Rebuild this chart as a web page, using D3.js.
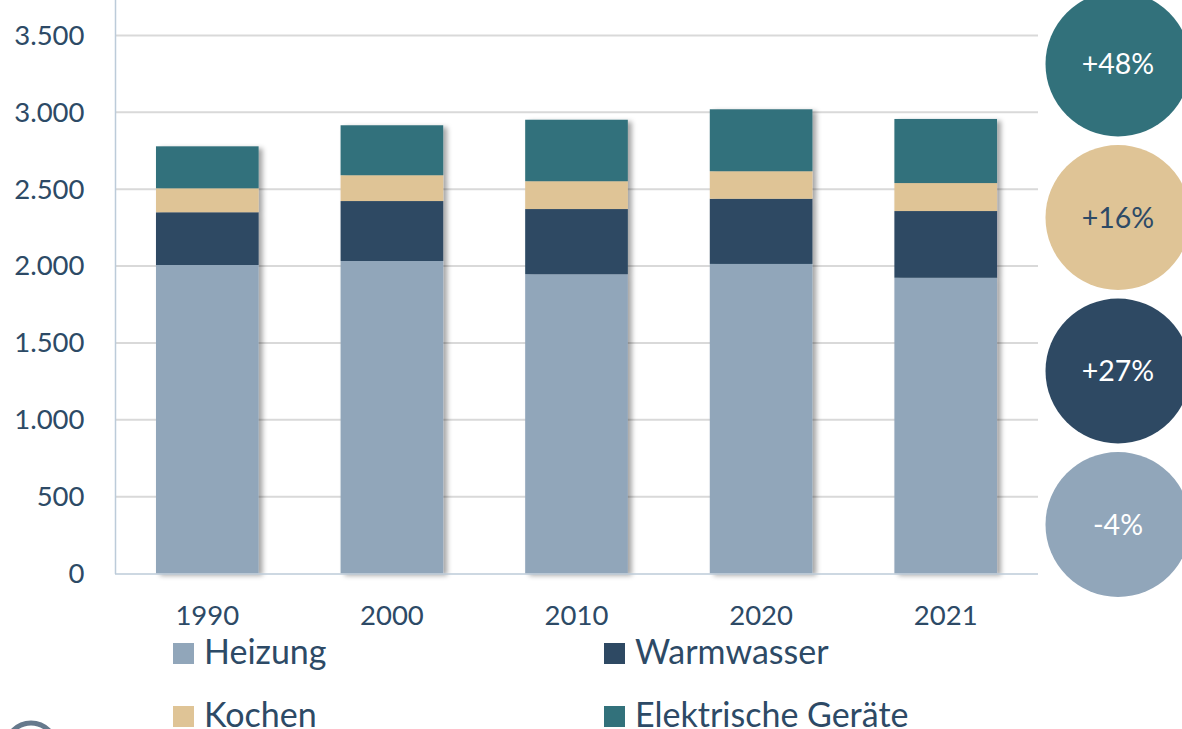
<!DOCTYPE html>
<meta charset="utf-8">
<style>
body { margin: 0; background: #fff; }
svg { display: block; font-family: Lato, "Noto Sans", sans-serif; }
.tick text { fill: #2d4a66; }
</style>
<svg width="1182" height="729"></svg>
<script src="https://d3js.org/d3.v7.min.js"></script>
<script>

// data
var years = ["1990", "2000", "2010", "2020", "2021"];
var heizung     = [2007, 2033, 1947, 2014, 1924];
var warmwasser  = [343, 390, 424, 424, 434];
var kochen      = [156, 168, 181, 179, 182];
var elektrisch  = [273, 325, 400, 403, 417];
var seriesNames = ["Heizung", "Warmwasser", "Kochen", "Elektrische Geräte"];
var changeLabels = ["-4%", "+27%", "+16%", "+48%"];
var yTicks = [0, 500, 1000, 1500, 2000, 2500, 3000, 3500];

var colors = ["#91a6ba", "#2e4963", "#dfc496", "#32717b"];
var textColor = "#2d4a66";

var svg = d3.select("svg");

var rows = years.map(function(y, i) {
  return { year: y, "Heizung": heizung[i], "Warmwasser": warmwasser[i],
           "Kochen": kochen[i], "Elektrische Geräte": elektrisch[i] };
});

var x = d3.scaleBand().domain(years).range([115, 1038])
    .paddingInner(0.444).paddingOuter(0.222);
var y = d3.scaleLinear().domain([0, 3500]).range([573.5, 35.5]);

// drop shadow for the bars
var defs = svg.append("defs");
defs.append("filter").attr("id", "shadow")
    .attr("x", "-10%").attr("y", "-10%").attr("width", "130%").attr("height", "130%")
  .append("feDropShadow")
    .attr("dx", 4).attr("dy", 2).attr("stdDeviation", 2.5)
    .attr("flood-color", "#000").attr("flood-opacity", 0.35);

// gridlines
svg.append("g").selectAll("line")
  .data(yTicks.slice(1))
  .enter().append("line")
    .attr("x1", 115).attr("x2", 1038)
    .attr("y1", function(d) { return y(d); })
    .attr("y2", function(d) { return y(d); })
    .attr("stroke", "#d9d9d9").attr("stroke-width", 2);

// y axis
var yAxis = svg.append("g")
    .attr("transform", "translate(115.5,0)")
    .call(d3.axisLeft(y).tickValues(yTicks).tickSize(0).tickPadding(31)
      .tickFormat(function(d) { return d3.format(",")(d).replace(/,/g, "."); }));
yAxis.select(".domain").remove();
yAxis.selectAll("text").attr("font-size", 27.5).attr("font-family", "Lato");
svg.append("line").attr("x1", 115.5).attr("x2", 115.5).attr("y1", 0).attr("y2", 574)
    .attr("stroke", "#bccbd9").attr("stroke-width", 1.5);

// stacked bars
var stack = d3.stack().keys(seriesNames)(rows);

var barGroups = svg.append("g").selectAll("g.bar")
  .data(years)
  .enter().append("g").attr("class", "bar")
    .attr("filter", "url(#shadow)");

barGroups.selectAll("rect")
  .data(function(yr, i) {
    return stack.map(function(s, k) { return { k: k, d: s[i] }; });
  })
  .enter().append("rect")
    .attr("x", function(o) { return x(o.d.data.year); })
    .attr("width", x.bandwidth())
    .attr("y", function(o) { return y(o.d[1]); })
    .attr("height", function(o) { return y(o.d[0]) - y(o.d[1]); })
    .attr("fill", function(o) { return colors[o.k]; });

// baseline
svg.append("line").attr("x1", 115).attr("x2", 1038).attr("y1", 574).attr("y2", 574)
    .attr("stroke", "#bccbd9").attr("stroke-width", 1.5);

// x axis labels
var xAxis = svg.append("g")
    .attr("transform", "translate(0,605)")
    .call(d3.axisBottom(x).tickSize(0).tickPadding(0));
xAxis.select(".domain").remove();
xAxis.selectAll("text").attr("font-size", 27.5).attr("font-family", "Lato");

// change circles on the right
var circleY = d3.scaleLinear().domain([0, 3]).range([524.5, 64]);
var circ = svg.append("g").selectAll("g")
  .data(changeLabels)
  .enter().append("g")
    .attr("transform", function(d, i) { return "translate(1118," + circleY(i) + ")"; });
circ.append("circle").attr("r", 72.5)
    .attr("fill", function(d, i) { return colors[i]; });
circ.append("text")
    .attr("text-anchor", "middle").attr("dy", "0.36em")
    .attr("font-size", 28.5)
    .attr("fill", function(d, i) { return i == 2 ? textColor : "#fff"; })
    .text(function(d) { return d; });

// legend
var legendPos = [[173, 643], [604, 643], [173, 706], [604, 706]];
var legend = svg.append("g").selectAll("g")
  .data(seriesNames)
  .enter().append("g")
    .attr("transform", function(d, i) { return "translate(" + legendPos[i][0] + "," + legendPos[i][1] + ")"; });
legend.append("rect").attr("width", 21).attr("height", 21)
    .attr("fill", function(d, i) { return colors[i]; });
legend.append("text").attr("x", 31).attr("y", 21)
    .attr("font-size", 34).attr("fill", textColor)
    .text(function(d) { return d; });

// partial logo ring bottom left
svg.append("circle").attr("cx", 31).attr("cy", 748).attr("r", 25)
    .attr("fill", "none").attr("stroke", "#66798c").attr("stroke-width", 5);

</script>
